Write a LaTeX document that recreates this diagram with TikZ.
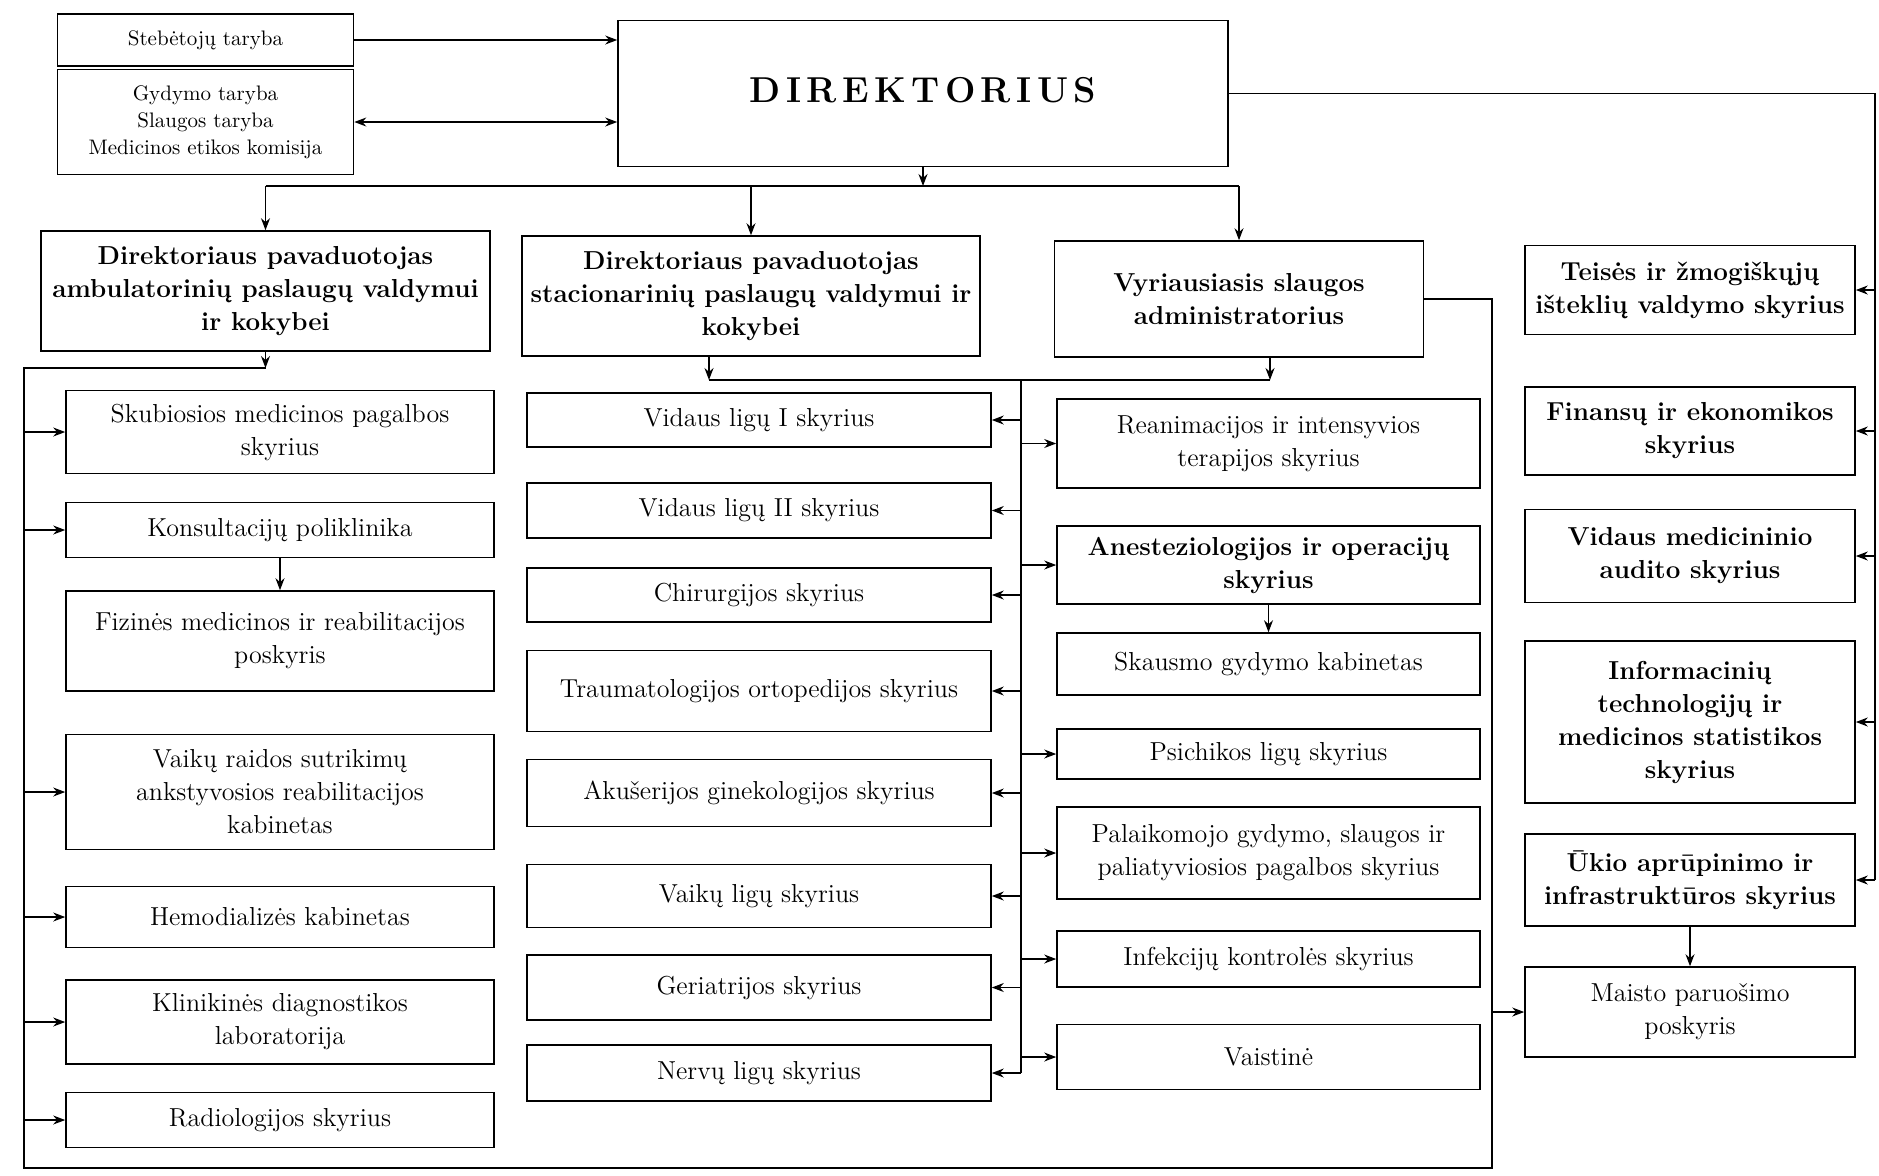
\documentclass[tikz,border=0pt]{standalone}
\usepackage{fontspec}
\usetikzlibrary{arrows.meta}

\newcommand{\deptsize}{\fontsize{13}{16.5}\selectfont}
\newcommand{\boardsize}{\fontsize{10.5}{13.5}\selectfont}
\newcommand{\gap}{\kern2.7pt}

\tikzset{
  dept/.style={draw, line width=0.8pt, align=center, inner sep=2pt, font=\deptsize},
  deptbold/.style={dept, font=\deptsize\bfseries},
  board/.style={dept, font=\boardsize},
  arr/.style={line width=0.6pt, -{Stealth[length=6pt,width=4.5pt]}},
  arrtwo/.style={line width=0.6pt, {Stealth[length=6pt,width=4.5pt]}-{Stealth[length=6pt,width=4.5pt]}},
  bus/.style={line width=0.6pt}
}

\begin{document}
\begin{tikzpicture}[x=0.5pt,y=-0.5pt]
\useasboundingbox (0,0) rectangle (1879,1175);

% top: boards and director
\node[board, minimum width=148pt, minimum height=26pt] (steb) at (205.5,40) {Stebėtojų taryba};
\node[board, minimum width=148pt, minimum height=52.5pt] (gyd) at (205.5,122) {Gydymo taryba\\Slaugos taryba\\Medicinos etikos komisija};
\node[draw, line width=0.8pt, minimum width=305pt, minimum height=73pt] (dir) at (923,93.5)
  {\raisebox{3.5pt}{\fontsize{18}{20}\selectfont\bfseries D\gap I\gap R\gap E\gap K\gap T\gap O\gap R\gap I\gap U\gap S}};

% deputies
\node[deptbold, minimum width=224.5pt, minimum height=60pt] (a1) at (265.5,291) {Direktoriaus pavaduotojas\\ambulatorinių paslaugų valdymui\\ir kokybei};
\node[deptbold, minimum width=229pt, minimum height=60pt] (a2) at (751,296) {Direktoriaus pavaduotojas\\stacionarinių paslaugų valdymui ir\\kokybei};
\node[deptbold, minimum width=184.5pt, minimum height=58pt] (a3) at (1239,299) {Vyriausiasis slaugos\\administratorius};

% left column
\node[dept, minimum width=214pt, minimum height=41.5pt] (l1) at (280,432) {Skubiosios medicinos pagalbos\\skyrius};
\node[dept, minimum width=214pt, minimum height=27.5pt] (l2) at (280,530) {Konsultacijų poliklinika};
\node[dept, minimum width=214pt, minimum height=50pt] (l3) at (280,641) {Fizinės medicinos ir reabilitacijos\\poskyris};
\node[dept, minimum width=214pt, minimum height=57.5pt] (l4) at (280,792) {Vaikų raidos sutrikimų\\ankstyvosios reabilitacijos\\kabinetas};
\node[dept, minimum width=214pt, minimum height=30.5pt] (l5) at (280,917) {Hemodializės kabinetas};
\node[dept, minimum width=214pt, minimum height=42pt] (l6) at (280,1022) {Klinikinės diagnostikos\\laboratorija};
\node[dept, minimum width=214pt, minimum height=27.5pt] (l7) at (280,1120) {Radiologijos skyrius};

% middle column
\node[dept, minimum width=232pt, minimum height=27pt] (m1) at (759,420) {Vidaus ligų I skyrius};
\node[dept, minimum width=232pt, minimum height=27.5pt] (m2) at (759,510.5) {Vidaus ligų II skyrius};
\node[dept, minimum width=232pt, minimum height=27pt] (m3) at (759,595) {Chirurgijos skyrius};
\node[dept, minimum width=232pt, minimum height=40.5pt] (m4) at (759,691) {Traumatologijos ortopedijos skyrius};
\node[dept, minimum width=232pt, minimum height=33.5pt] (m5) at (759,793) {Akušerijos ginekologijos skyrius};
\node[dept, minimum width=232pt, minimum height=31.5pt] (m6) at (759,896) {Vaikų ligų skyrius};
\node[dept, minimum width=232pt, minimum height=32.5pt] (m7) at (759,987.5) {Geriatrijos skyrius};
\node[dept, minimum width=232pt, minimum height=28pt] (m8) at (759,1073) {Nervų ligų skyrius};

% nursing column
\node[dept, minimum width=211.5pt, minimum height=44.5pt] (r1) at (1268.5,443.5) {Reanimacijos ir intensyvios\\terapijos skyrius};
\node[deptbold, minimum width=211.5pt, minimum height=39pt] (r2) at (1268.5,565) {Anesteziologijos ir operacijų\\skyrius};
\node[dept, minimum width=211.5pt, minimum height=31pt] (r3) at (1268.5,664) {Skausmo gydymo kabinetas};
\node[dept, minimum width=211.5pt, minimum height=25pt] (r4) at (1268.5,754) {Psichikos ligų skyrius};
\node[dept, minimum width=211.5pt, minimum height=46pt] (r5) at (1268.5,853) {Palaikomojo gydymo, slaugos ir\\paliatyviosios pagalbos skyrius};
\node[dept, minimum width=211.5pt, minimum height=28pt] (r6) at (1268.5,959) {Infekcijų kontrolės skyrius};
\node[dept, minimum width=211.5pt, minimum height=32.5pt] (r7) at (1268.5,1057) {Vaistinė};

% far right column
\node[deptbold, minimum width=165pt, minimum height=44.5pt] (f1) at (1690,290) {Teisės ir žmogiškųjų\\išteklių valdymo skyrius};
\node[deptbold, minimum width=165pt, minimum height=44pt] (f2) at (1690,431) {Finansų ir ekonomikos\\skyrius};
\node[deptbold, minimum width=165pt, minimum height=46.5pt] (f3) at (1690,556) {Vidaus medicininio\\audito skyrius};
\node[deptbold, minimum width=165pt, minimum height=81pt] (f4) at (1690,722) {Informacinių\\technologijų ir\\medicinos statistikos\\skyrius};
\node[deptbold, minimum width=165pt, minimum height=46pt] (f5) at (1690,880) {Ūkio aprūpinimo ir\\infrastruktūros skyrius};
\node[dept, minimum width=165pt, minimum height=45pt] (f6) at (1690,1012) {Maisto paruošimo\\poskyris};

% boards to director
\draw[arr] (steb.east) -- (steb.east -| dir.west);
\draw[arrtwo] (gyd.east) -- (gyd.east -| dir.west);

% director to deputies
\coordinate (dbus) at (920,186);
\draw[arr] (dir.south) -- (dir.south |- dbus);
\draw[bus] (a1.north |- dbus) -- (a3.north |- dbus);
\foreach \n in {a1,a2,a3}
  \draw[arr] (\n.north |- dbus) -- (\n.north);

% director to right column
\coordinate (rx) at (1875,0);
\draw[bus] (dir.east) -- (dir.east -| rx) -- (rx |- f5.east);
\foreach \n in {f1,f2,f3,f4,f5}
  \draw[arr] (\n.east -| rx) -- (\n.east);
\draw[arr] (f5.south) -- (f6.north);

% ambulatory bus
\coordinate (lx) at (24,368);
\coordinate (bx) at (1492,1168);
\draw[arr] (a1.south) -- (a1.south |- lx);
\draw[bus] (a1.south |- lx) -- (lx) |- (bx) |- (a3.east);
\foreach \n in {l1,l2,l4,l5,l6,l7}
  \draw[arr] (\n.west -| lx) -- (\n.west);
\draw[arr] (l2.south) -- (l3.north);
\draw[arr] (f6.west -| bx) -- (f6.west);

% inpatient and nursing bus
\coordinate (mbus) at (709,380);
\coordinate (sbus) at (1270,380);
\coordinate (mx) at (1021,380);
\draw[arr] (a2.south -| mbus) -- (mbus);
\draw[arr] (a3.south -| sbus) -- (sbus);
\draw[bus] (mbus) -- (sbus);
\draw[bus] (mx) -- (mx |- m8.east);
\foreach \n in {m1,m2,m3,m4,m5,m6,m7,m8}
  \draw[arr] (\n.east -| mx) -- (\n.east);
\foreach \n in {r1,r2,r4,r5,r6,r7}
  \draw[arr] (\n.west -| mx) -- (\n.west);
\draw[arr] (r2.south) -- (r3.north);

\end{tikzpicture}
\end{document}
